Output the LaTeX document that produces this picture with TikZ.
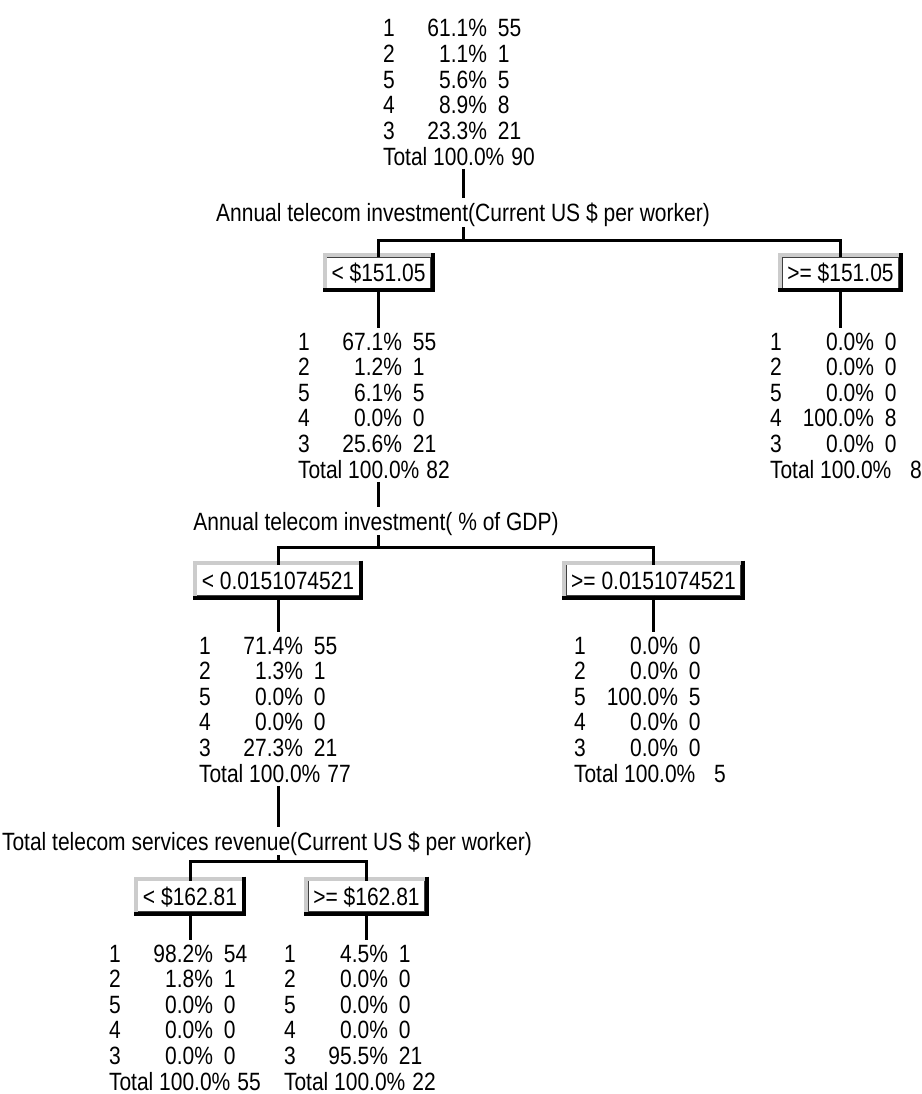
\documentclass[tikz,border=0pt]{standalone}
\usepackage{fontspec}
\newfontfamily\tf[FakeStretch=0.84]{Liberation Sans}
% one row of a class table: class, share (right aligned), count
\newcommand\trow[3]{\makebox[0pt][l]{#1}\makebox[104pt][r]{#2}\hspace{11pt}\makebox[0pt][l]{#3}}
\newcommand\ttot[1]{Total 100.0\%\hspace{7pt}\makebox[23.4pt][r]{#1}}
\newcommand\ctab[6]{\begin{tabular}[t]{@{}l@{}}#1\\#2\\#3\\#4\\#5\\\ttot{#6}\end{tabular}}
% a split value drawn as a raised button
\newcommand\splitnode[4]{%
  \node[splitbox] (#1) at (#2,#3) {#4};
  \draw[gray!40, line width=4pt] ([shift={(-2,-2)}]#1.north west) rectangle ([shift={(2,2)}]#1.south east);
  \draw[black, line width=4pt] ([shift={(2,-4)}]#1.north east) -- ([shift={(2,2)}]#1.south east) -- ([shift={(-4,2)}]#1.south west);
}
\begin{document}
\begin{tikzpicture}[x=1pt,y=-1pt,
  every node/.style={inner sep=0pt, outer sep=0pt, font=\tf\fontsize{25}{25.6}\selectfont},
  conn/.style={line width=3pt, black},
  tbl/.style={anchor=base west},
  lbl/.style={anchor=base},
  splitbox/.style={fill=white, draw=black!75, line width=1pt, inner xsep=5pt,
    text height=18pt, text depth=0pt, minimum height=31pt}]
\fill[white] (0,0) rectangle (921,1094);
\useasboundingbox (0,0) rectangle (921,1094);

% root
\node[tbl] (t0) at (383,37) {\ctab{\trow{1}{61.1\%}{55}}{\trow{2}{1.1\%}{1}}{\trow{5}{5.6\%}{5}}{\trow{4}{8.9\%}{8}}{\trow{3}{23.3\%}{21}}{90}};
\node[lbl] (l1) at (463,222) {Annual telecom investment(Current US \$ per worker)};
\coordinate (j1) at (463,240);
\splitnode{b1l}{378.5}{272.5}{< \$151.05}
\splitnode{b1r}{840.5}{272.5}{>= \$151.05}
\draw[conn, shorten <=-4pt, shorten >=5pt] (l1.north |- t0.south) -- (l1.north);
\draw[conn] (l1.south) -- (j1);
\draw[conn] (b1l.north) |- (j1) -| (b1r.north);

% first level
\node[tbl] (t1) at (298,350) {\ctab{\trow{1}{67.1\%}{55}}{\trow{2}{1.2\%}{1}}{\trow{5}{6.1\%}{5}}{\trow{4}{0.0\%}{0}}{\trow{3}{25.6\%}{21}}{82}};
\node[tbl] (t1r) at (770,350) {\ctab{\trow{1}{0.0\%}{0}}{\trow{2}{0.0\%}{0}}{\trow{5}{0.0\%}{0}}{\trow{4}{100.0\%}{8}}{\trow{3}{0.0\%}{0}}{8}};
\draw[conn, shorten >=4pt] (b1l.south) -- (b1l.south |- t1.north);
\draw[conn, shorten >=4pt] (b1r.south) -- (b1r.south |- t1r.north);
\node[lbl] (l2) at (376,530) {Annual telecom investment( \% of GDP)};
\coordinate (j2) at (378.5,547);
\draw[conn, shorten <=-4pt, shorten >=5pt] (b1l.south |- t1.south) -- (b1l.south |- l2.north);
\draw[conn] (b1l.south |- l2.south) -- (j2);
\splitnode{b2l}{278}{580}{< 0.0151074521}
\splitnode{b2r}{653.5}{580}{>= 0.0151074521}
\draw[conn] (b2l.north) |- (j2) -| (b2r.north);

% second level
\node[tbl] (t2l) at (199,654) {\ctab{\trow{1}{71.4\%}{55}}{\trow{2}{1.3\%}{1}}{\trow{5}{0.0\%}{0}}{\trow{4}{0.0\%}{0}}{\trow{3}{27.3\%}{21}}{77}};
\node[tbl] (t2r) at (574,654) {\ctab{\trow{1}{0.0\%}{0}}{\trow{2}{0.0\%}{0}}{\trow{5}{100.0\%}{5}}{\trow{4}{0.0\%}{0}}{\trow{3}{0.0\%}{0}}{5}};
\draw[conn, shorten >=4pt] (b2l.south) -- (b2l.south |- t2l.north);
\draw[conn, shorten >=4pt] (b2r.south) -- (b2r.south |- t2r.north);
\node[anchor=base west] (l3) at (2,850) {Total telecom services revenue(Current US \$ per worker)};
\coordinate (j3) at (278,861);
\draw[conn, shorten <=-4pt, shorten >=5pt] (b2l.south |- t2l.south) -- (b2l.south |- l3.north);
\draw[conn] (b2l.south |- l3.south) -- (j3);
\splitnode{b3l}{190}{896}{< \$162.81}
\splitnode{b3r}{366.5}{896}{>= \$162.81}
\draw[conn] (b3l.north) |- (j3) -| (b3r.north);

% leaves
\node[tbl] (t3l) at (109,962) {\ctab{\trow{1}{98.2\%}{54}}{\trow{2}{1.8\%}{1}}{\trow{5}{0.0\%}{0}}{\trow{4}{0.0\%}{0}}{\trow{3}{0.0\%}{0}}{55}};
\node[tbl] (t3r) at (284,962) {\ctab{\trow{1}{4.5\%}{1}}{\trow{2}{0.0\%}{0}}{\trow{5}{0.0\%}{0}}{\trow{4}{0.0\%}{0}}{\trow{3}{95.5\%}{21}}{22}};
\draw[conn, shorten >=4pt] (b3l.south) -- (b3l.south |- t3l.north);
\draw[conn, shorten >=4pt] (b3r.south) -- (b3r.south |- t3r.north);
\end{tikzpicture}
\end{document}
